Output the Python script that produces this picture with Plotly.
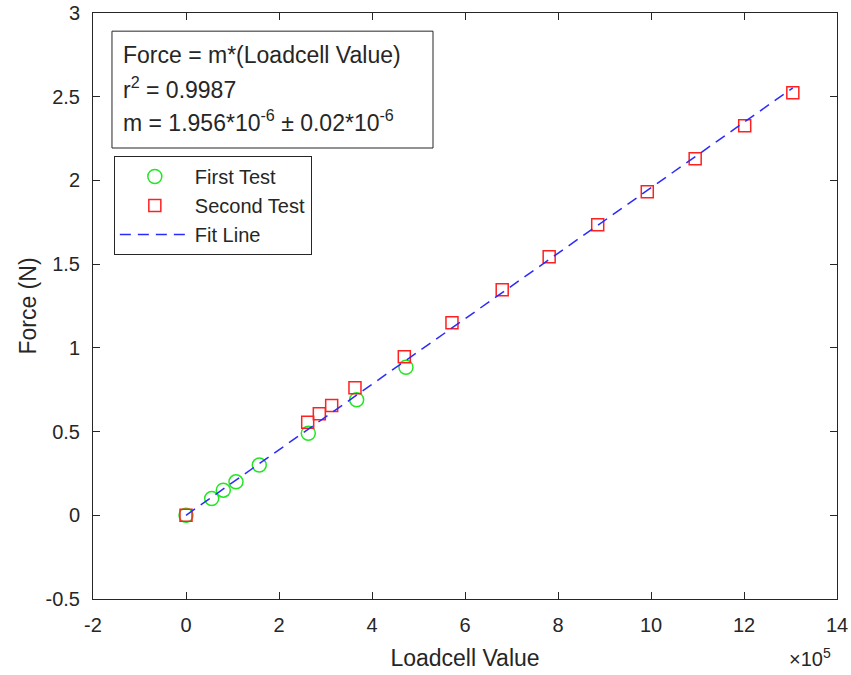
import numpy as np
import plotly.graph_objects as go

# Calibration data: raw loadcell readings and applied force (N)
first_loadcell = [0, 55300, 80200, 107500, 157600, 263000, 367000, 473000]
first_force = [0.0, 0.10, 0.15, 0.20, 0.30, 0.49, 0.69, 0.884]

second_loadcell = [0, 261700, 286700, 313300, 363400, 469500, 572000, 680000,
                   781000, 885400, 992000, 1095000, 1201500, 1305000]
second_force = [0.0, 0.556, 0.607, 0.655, 0.762, 0.947, 1.15, 1.347,
                1.544, 1.736, 1.933, 2.130, 2.327, 2.524]

# Linear fit through the origin: Force = m * (Loadcell Value)
slope = 1.956e-6
slope_err = 0.02e-6
r_squared = 0.9987
fit_x = [0, max(second_loadcell)]
fit_y = [slope * v for v in fit_x]

x_ticks = np.arange(-2e5, 14e5 + 1, 2e5)
x_ticktext = [f"{v / 1e5:g}" for v in x_ticks]
y_ticks = np.arange(-0.5, 3.01, 0.5)
y_ticktext = [f"{v:g}" for v in y_ticks]

FONT = "Liberation Sans, Arial, Helvetica, sans-serif"
INK = "#262626"

fig = go.Figure()
fig.add_trace(go.Scatter(
    x=first_loadcell, y=first_force, mode="markers", name="First Test",
    marker=dict(symbol="circle-open", size=14, color="#22e622",
                line=dict(width=1.5, color="#22e622")),
))
fig.add_trace(go.Scatter(
    x=second_loadcell, y=second_force, mode="markers", name="Second Test",
    marker=dict(symbol="square-open", size=12, color="#ff2020",
                line=dict(width=1.5, color="#ff2020")),
))
fig.add_trace(go.Scatter(
    x=fit_x, y=fit_y, mode="lines", name="Fit Line",
    line=dict(color="#2a2aff", width=1.5, dash="11px,7px"),
))

axis_common = dict(
    showgrid=False, zeroline=False, showline=True, linecolor=INK, linewidth=1,
    mirror="ticks", ticks="inside", ticklen=7, tickwidth=1, tickcolor=INK,
    tickfont=dict(family=FONT, size=20, color=INK),
    tickmode="array",
)

fig.update_layout(
    width=851, height=675,
    margin=dict(l=93, r=14, t=13, b=76, autoexpand=False),
    paper_bgcolor="white", plot_bgcolor="white",
    font=dict(family=FONT, color=INK),
    xaxis=dict(
        **axis_common, range=[-2e5, 14e5], tickvals=x_ticks, ticktext=x_ticktext,
        ticklabelstandoff=8,
        title=dict(text="Loadcell Value", font=dict(family=FONT, size=23, color=INK),
                   standoff=14),
    ),
    yaxis=dict(
        **axis_common, range=[-0.5, 3], tickvals=y_ticks, ticktext=y_ticktext,
        ticklabelstandoff=8,
        title=dict(text="Force (N)", font=dict(family=FONT, size=23, color=INK),
                   standoff=2),
    ),
    legend=dict(
        x=0.028, y=0.756, xanchor="left", yanchor="top",
        bgcolor="white", bordercolor=INK, borderwidth=1,
        font=dict(family=FONT, size=20, color=INK),
        itemwidth=70, tracegroupgap=0,
    ),
    showlegend=True,
)

# Fit-result text box
fig.add_shape(type="rect", xref="paper", yref="paper",
              x0=0.0255, x1=0.457, y0=0.7696, y1=0.969,
              line=dict(color=INK, width=1), fillcolor="white", layer="above")
box_lines = [
    "Force = m*(Loadcell Value)",
    f"r<sup>2</sup> = {r_squared}",
    f"m = {slope * 1e6:.3f}*10<sup>-6</sup> \u00b1 {slope_err * 1e6:.2f}*10<sup>-6</sup>",
]
for txt, yy in zip(box_lines, [0.928, 0.872, 0.816]):
    fig.add_annotation(text=txt, xref="paper", yref="paper", x=0.0375, y=yy,
                       xanchor="left", yanchor="middle", showarrow=False,
                       font=dict(family=FONT, size=23, color=INK))

# Axis exponent label
fig.add_annotation(text="\u00d710<sup>5</sup>", xref="paper", yref="paper",
                   x=0.995, y=-0.075, xanchor="right", yanchor="top", showarrow=False,
                   font=dict(family=FONT, size=20, color=INK))

fig.write_html("out.html")
